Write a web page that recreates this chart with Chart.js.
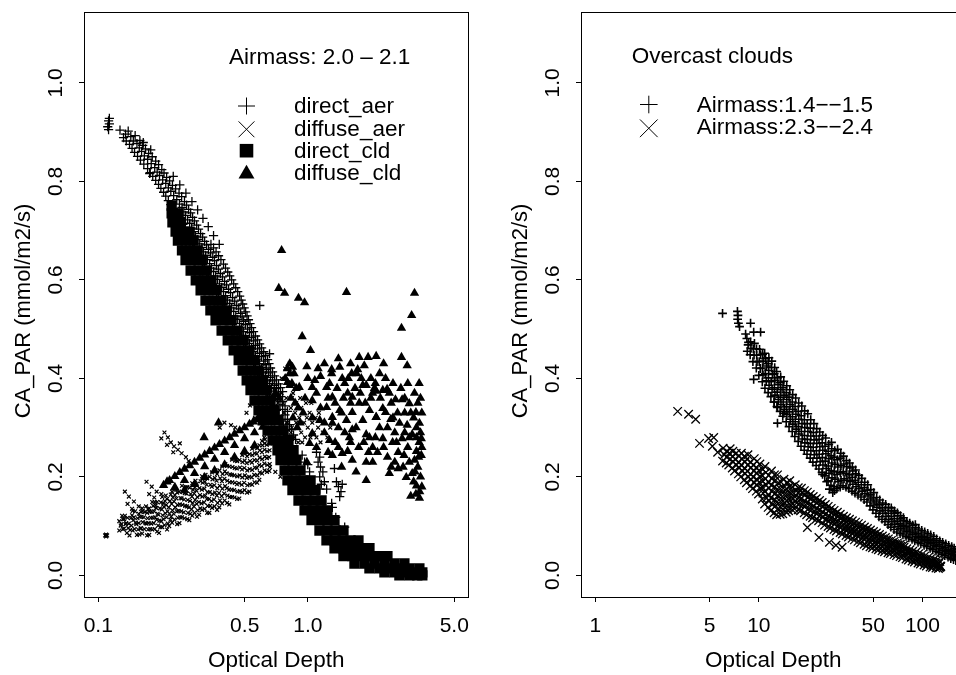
<!DOCTYPE html>
<html lang="en">
<head>
<meta charset="utf-8">
<title>CA_PAR vs Optical Depth</title>
<script src="https://cdn.jsdelivr.net/npm/chart.js@4.4.1/dist/chart.umd.min.js"></script>
<style>
  html, body { margin: 0; padding: 0; background: #fff; }
  body { width: 956px; height: 675px; overflow: hidden; position: relative; }
  canvas { position: absolute; top: 0; }
  #panelAer { left: 0; }
  #panelOvercast { left: 497px; }
</style>
</head>
<body>
<canvas id="panelAer" width="478" height="675"></canvas>
<canvas id="panelOvercast" width="478" height="675"></canvas>
<script>
// ---------- axis ticks ----------
const yTickValues = [0, 0.2, 0.4, 0.6, 0.8, 1.0];
const aerTickValues = [0.1, 0.5, 1, 5];
const aerTickLabels = ['0.1', '0.5', '1.0', '5.0'];
const overcastTickValues = [1, 5, 10, 50, 100];
const overcastTickLabels = ['1', '5', '10', '50', '100'];

// ---------- left panel: airmass 2.0 - 2.1 ----------
// [optical depth, CA_PAR]
const directAer = [
  [0.112,0.905],[0.111,0.911],[0.113,0.917],[0.112,0.923],[0.113,0.928],
  [0.127,0.904],[0.139,0.902],[0.132,0.889],[0.143,0.891],[0.135,0.896],
  [0.141,0.875],[0.153,0.877],[0.163,0.873],[0.149,0.859],[0.161,0.861],[0.174,0.857],
  [0.136,0.882],[0.147,0.882],[0.158,0.883],[0.145,0.867],[0.157,0.868],[0.168,0.866],
  [0.154,0.851],[0.166,0.852],[0.181,0.850],[0.165,0.835],[0.179,0.836],[0.194,0.834],
  [0.159,0.843],[0.172,0.845],[0.188,0.841],[0.172,0.826],[0.186,0.828],[0.201,0.824],
  [0.177,0.818],[0.191,0.819],[0.206,0.817],[0.188,0.802],[0.203,0.803],[0.219,0.801],
  [0.182,0.810],[0.196,0.812],[0.212,0.808],[0.176,0.816],[0.194,0.794],[0.210,0.796],[0.226,0.792],
  [0.228,0.810],[0.245,0.793],[0.262,0.776],[0.280,0.759],[0.298,0.742],[0.316,0.725],
  [0.335,0.708],[0.355,0.690],[0.378,0.672],[0.150,0.893],[0.164,0.879],[0.178,0.864],
  [0.199,0.786],[0.216,0.787],[0.234,0.785],[0.210,0.770],[0.229,0.771],[0.250,0.769],
  [0.205,0.778],[0.222,0.780],[0.243,0.776],[0.216,0.761],[0.237,0.763],[0.258,0.759],
  [0.222,0.753],[0.244,0.754],[0.264,0.752],[0.236,0.737],[0.256,0.738],[0.276,0.736],
  [0.229,0.745],[0.251,0.747],[0.270,0.743],[0.243,0.729],[0.261,0.731],[0.282,0.727],
  [0.248,0.721],[0.267,0.722],[0.288,0.720],[0.258,0.704],[0.279,0.705],[0.301,0.703],
  [0.253,0.713],[0.273,0.715],[0.295,0.711],[0.264,0.696],[0.285,0.698],[0.308,0.694],
  [0.270,0.688],[0.291,0.689],[0.315,0.687],
  [0.276,0.680],[0.298,0.682],[0.322,0.678],
  [0.282,0.672],[0.305,0.673],[0.329,0.671],[0.345,0.672],
  [0.288,0.664],[0.312,0.666],[0.336,0.662],[0.355,0.665],
  [0.294,0.656],[0.318,0.657],[0.344,0.655],[0.365,0.657],
  [0.301,0.648],[0.325,0.650],[0.352,0.646],[0.375,0.649],
  [0.308,0.640],[0.332,0.641],[0.359,0.639],[0.385,0.641],
  [0.315,0.631],[0.340,0.633],[0.367,0.629],[0.396,0.632],
  [0.322,0.623],[0.347,0.624],[0.375,0.622],[0.405,0.624],
  [0.329,0.615],[0.355,0.617],[0.383,0.613],[0.415,0.616],
  [0.336,0.607],[0.363,0.608],[0.392,0.606],[0.424,0.608],
  [0.343,0.599],[0.371,0.601],[0.401,0.597],[0.433,0.600],
  [0.351,0.591],[0.379,0.592],[0.410,0.590],[0.443,0.592],
  [0.359,0.583],[0.388,0.585],[0.419,0.581],[0.453,0.584],
  [0.367,0.575],[0.396,0.576],[0.428,0.574],[0.463,0.576],
  [0.375,0.566],[0.405,0.568],[0.438,0.564],[0.473,0.567],
  [0.383,0.558],[0.414,0.559],[0.448,0.557],[0.481,0.559],
  [0.392,0.550],[0.424,0.552],[0.458,0.548],[0.489,0.551],
  [0.401,0.542],[0.433,0.543],[0.468,0.541],[0.497,0.543],
  [0.410,0.534],[0.443,0.536],[0.478,0.532],[0.505,0.535],
  [0.419,0.526],[0.453,0.527],[0.486,0.525],[0.513,0.527],
  [0.428,0.518],[0.463,0.520],[0.494,0.516],[0.521,0.519],
  [0.437,0.510],[0.473,0.511],[0.505,0.509],[0.530,0.511],
  [0.447,0.502],[0.483,0.504],[0.516,0.500],[0.539,0.503],
  [0.460,0.494],[0.494,0.495],[0.527,0.493],[0.551,0.495],
  [0.473,0.485],[0.505,0.487],[0.539,0.483],[0.563,0.486],
  [0.483,0.477],[0.516,0.478],[0.551,0.476],[0.576,0.478],
  [0.494,0.469],[0.527,0.471],[0.563,0.467],[0.589,0.470],
  [0.505,0.461],[0.539,0.462],[0.576,0.460],[0.602,0.462],
  [0.516,0.453],[0.551,0.455],[0.589,0.451],[0.616,0.454],
  [0.527,0.445],[0.563,0.446],[0.602,0.444],[0.629,0.446],
  [0.539,0.437],[0.576,0.439],[0.616,0.435],[0.643,0.438],
  [0.551,0.429],[0.589,0.430],[0.626,0.428],[0.653,0.430],
  [0.563,0.420],[0.602,0.422],[0.636,0.418],[0.664,0.421],
  [0.576,0.412],[0.615,0.413],[0.650,0.411],[0.679,0.413],
  [0.589,0.404],[0.629,0.406],[0.664,0.402],[0.694,0.405],
  [0.602,0.396],[0.643,0.397],[0.679,0.395],[0.709,0.397],
  [0.616,0.388],[0.657,0.390],[0.694,0.386],[0.725,0.389],
  [0.629,0.380],[0.672,0.381],[0.709,0.379],[0.741,0.381],
  [0.643,0.372],[0.687,0.374],[0.725,0.370],[0.758,0.373],
  [0.657,0.364],[0.702,0.365],[0.741,0.363],
  [0.672,0.355],[0.717,0.357],[0.758,0.353],
  [0.690,0.345],[0.737,0.346],[0.779,0.344],
  [0.709,0.335],[0.758,0.337],[0.800,0.333],
  [0.729,0.325],[0.779,0.326],[0.750,0.315],[0.800,0.317],
  [0.766,0.305],[0.818,0.306],[0.783,0.294],[0.836,0.296],
  [0.800,0.284],[0.855,0.285],[0.818,0.274],[0.874,0.276],
  [0.590,0.548],[0.657,0.450],
  [0.940,0.244],[0.965,0.230],[1.000,0.225],[1.020,0.210],[1.100,0.250],[1.140,0.240],
  [1.150,0.220],[1.140,0.200],[1.160,0.185],[1.140,0.175],[1.200,0.190],[1.230,0.175],
  [1.120,0.230],[1.180,0.210],[1.340,0.217],[1.370,0.190],[1.400,0.180],[1.440,0.170],
  [1.460,0.185],[1.420,0.160],[1.300,0.146],[1.310,0.138],[1.360,0.118],[1.500,0.098]
];

const diffuseAer = [
  [0.126,0.091],[0.128,0.101],[0.126,0.110],
  [0.133,0.095],[0.135,0.104],[0.133,0.114],[0.134,0.121],
  [0.141,0.081],[0.142,0.092],[0.140,0.105],[0.143,0.116],
  [0.149,0.094],[0.151,0.107],[0.148,0.118],[0.150,0.130],
  [0.157,0.083],[0.159,0.095],[0.156,0.106],[0.158,0.119],[0.160,0.129],
  [0.166,0.094],[0.168,0.106],[0.165,0.118],[0.167,0.129],[0.169,0.140],
  [0.175,0.082],[0.177,0.094],[0.174,0.106],[0.178,0.117],[0.176,0.129],[0.175,0.136],
  [0.186,0.094],[0.184,0.106],[0.187,0.118],[0.185,0.130],[0.188,0.142],[0.186,0.149],
  [0.195,0.086],[0.198,0.098],[0.196,0.111],[0.194,0.123],[0.197,0.136],[0.199,0.148],
  [0.207,0.102],[0.205,0.114],[0.209,0.126],[0.206,0.139],[0.208,0.151],[0.210,0.162],
  [0.218,0.100],[0.221,0.113],[0.219,0.125],[0.217,0.138],[0.220,0.151],[0.222,0.164],
  [0.231,0.113],[0.229,0.125],[0.233,0.138],[0.230,0.150],[0.232,0.163],[0.234,0.174],
  [0.244,0.106],[0.246,0.118],[0.242,0.131],[0.245,0.144],[0.247,0.157],[0.243,0.170],
  [0.258,0.116],[0.256,0.128],[0.260,0.141],[0.257,0.154],[0.259,0.167],[0.261,0.179],
  [0.272,0.112],[0.275,0.125],[0.271,0.138],[0.274,0.151],[0.276,0.165],[0.273,0.178],
  [0.288,0.127],[0.286,0.140],[0.290,0.153],[0.287,0.166],[0.289,0.179],[0.291,0.192],
  [0.303,0.123],[0.307,0.136],[0.302,0.149],[0.306,0.163],[0.304,0.177],[0.308,0.191],
  [0.322,0.135],[0.320,0.148],[0.324,0.162],[0.321,0.176],[0.323,0.190],[0.325,0.204],
  [0.339,0.127],[0.342,0.141],[0.338,0.155],[0.341,0.169],[0.343,0.184],[0.340,0.200],
  [0.359,0.140],[0.357,0.154],[0.361,0.168],[0.358,0.183],[0.360,0.198],[0.362,0.213],
  [0.378,0.138],[0.381,0.152],[0.377,0.167],[0.380,0.182],[0.382,0.197],[0.379,0.213],
  [0.401,0.152],[0.399,0.166],[0.403,0.181],[0.400,0.196],[0.402,0.211],[0.404,0.226],
  [0.422,0.144],[0.425,0.159],[0.421,0.174],[0.424,0.189],[0.426,0.205],[0.423,0.221],
  [0.447,0.158],[0.445,0.173],[0.449,0.188],[0.446,0.203],[0.448,0.218],[0.450,0.233],
  [0.471,0.156],[0.474,0.171],[0.470,0.187],[0.473,0.203],[0.475,0.219],[0.472,0.234],
  [0.499,0.173],[0.497,0.188],[0.501,0.203],[0.498,0.218],[0.500,0.233],[0.502,0.247],
  [0.526,0.170],[0.529,0.185],[0.525,0.200],[0.528,0.216],[0.530,0.232],[0.527,0.246],
  [0.557,0.189],[0.555,0.204],[0.559,0.219],[0.556,0.234],[0.558,0.248],[0.560,0.260],
  [0.587,0.194],[0.590,0.209],[0.586,0.224],[0.589,0.239],[0.591,0.254],[0.588,0.264],
  [0.622,0.213],[0.620,0.227],[0.624,0.241],[0.621,0.255],[0.623,0.268],[0.625,0.276],
  [0.655,0.212],[0.658,0.226],[0.654,0.240],[0.657,0.254],[0.659,0.268],
  [0.131,0.094],[0.129,0.104],[0.131,0.114],[0.130,0.121],
  [0.137,0.086],[0.139,0.096],[0.136,0.106],[0.138,0.117],
  [0.146,0.091],[0.144,0.101],[0.147,0.112],[0.145,0.122],[0.146,0.131],
  [0.153,0.082],[0.155,0.093],[0.152,0.104],[0.154,0.116],[0.156,0.125],
  [0.162,0.085],[0.160,0.096],[0.163,0.108],[0.161,0.119],[0.163,0.130],[0.162,0.136],
  [0.171,0.081],[0.173,0.093],[0.170,0.105],[0.172,0.116],[0.171,0.127],[0.173,0.134],
  [0.181,0.093],[0.179,0.105],[0.182,0.117],[0.180,0.129],[0.183,0.141],[0.181,0.149],
  [0.191,0.089],[0.193,0.101],[0.190,0.113],[0.192,0.125],[0.189,0.137],[0.191,0.149],
  [0.202,0.098],[0.200,0.110],[0.203,0.122],[0.201,0.134],[0.204,0.146],[0.202,0.159],
  [0.213,0.093],[0.215,0.105],[0.212,0.118],[0.214,0.130],[0.211,0.143],[0.213,0.155],
  [0.225,0.107],[0.223,0.119],[0.226,0.132],[0.224,0.145],[0.227,0.158],[0.225,0.170],
  [0.238,0.104],[0.240,0.117],[0.237,0.130],[0.239,0.143],[0.236,0.156],[0.238,0.168],
  [0.251,0.118],[0.249,0.130],[0.252,0.143],[0.250,0.156],[0.253,0.169],[0.251,0.182],
  [0.266,0.114],[0.268,0.127],[0.265,0.140],[0.267,0.153],[0.264,0.166],[0.266,0.179],
  [0.281,0.121],[0.279,0.134],[0.282,0.147],[0.280,0.160],[0.283,0.174],[0.281,0.187],
  [0.296,0.119],[0.298,0.132],[0.295,0.145],[0.297,0.159],[0.294,0.172],[0.296,0.186],
  [0.313,0.133],[0.311,0.146],[0.314,0.160],[0.312,0.174],[0.315,0.188],[0.313,0.201],
  [0.331,0.127],[0.333,0.141],[0.330,0.155],[0.332,0.169],[0.329,0.184],[0.331,0.197],
  [0.349,0.137],[0.347,0.151],[0.350,0.165],[0.348,0.180],[0.351,0.195],[0.349,0.209],
  [0.369,0.133],[0.371,0.147],[0.368,0.162],[0.370,0.177],[0.367,0.192],[0.369,0.206],
  [0.390,0.146],[0.388,0.161],[0.391,0.176],[0.389,0.191],[0.392,0.206],[0.390,0.221],
  [0.412,0.147],[0.414,0.162],[0.411,0.177],[0.413,0.192],[0.410,0.207],[0.412,0.222],
  [0.435,0.159],[0.433,0.174],[0.436,0.189],[0.434,0.204],[0.437,0.220],[0.435,0.235],
  [0.460,0.155],[0.462,0.170],[0.459,0.185],[0.461,0.201],[0.458,0.217],[0.460,0.232],
  [0.486,0.169],[0.484,0.184],[0.487,0.199],[0.485,0.215],[0.488,0.230],[0.486,0.244],
  [0.513,0.168],[0.515,0.183],[0.512,0.198],[0.514,0.213],[0.511,0.228],[0.513,0.242],
  [0.542,0.184],[0.540,0.199],[0.543,0.214],[0.541,0.229],[0.544,0.244],[0.542,0.257],
  [0.573,0.188],[0.575,0.203],[0.572,0.218],[0.574,0.233],[0.571,0.247],[0.573,0.258],
  [0.605,0.207],[0.603,0.222],[0.606,0.236],[0.604,0.250],[0.607,0.264],[0.605,0.273],
  [0.639,0.210],[0.641,0.224],[0.638,0.238],[0.640,0.252],[0.637,0.265],
  [0.207,0.290],[0.215,0.280],[0.222,0.270],[0.230,0.262],[0.240,0.255],[0.250,0.248],
  [0.262,0.240],[0.270,0.232],[0.213,0.265],[0.228,0.250],[0.200,0.278],[0.245,0.268],
  [0.170,0.190],[0.180,0.180],[0.190,0.170],[0.175,0.165],[0.185,0.158],[0.200,0.165],
  [0.134,0.170],[0.140,0.160],[0.148,0.150],[0.156,0.140],[0.145,0.135],[0.138,0.145],
  [0.380,0.300],[0.400,0.310],[0.430,0.305],[0.450,0.300],
  [0.510,0.330],[0.530,0.345],[0.550,0.360],[0.570,0.340],[0.590,0.330],[0.560,0.320],[0.540,0.310],
  [0.1078,0.081],[0.1102,0.081],[0.109,0.079],[0.109,0.083],[0.109,0.081],
  [0.68,0.30],[0.70,0.32],[0.72,0.28],[0.72,0.35],[0.74,0.30],[0.75,0.37],[0.76,0.27],[0.77,0.33],
  [0.78,0.29],[0.79,0.36],[0.80,0.31],[0.81,0.39],[0.82,0.27],[0.83,0.34],[0.84,0.30],[0.85,0.37],
  [0.86,0.28],[0.87,0.33],[0.88,0.35],[0.89,0.30],[0.90,0.27],[0.91,0.32],[0.92,0.36],[0.93,0.29],
  [0.95,0.33],[0.96,0.31],[0.97,0.28],[0.98,0.35],[1.00,0.30],[1.02,0.33],[1.03,0.28],[1.05,0.31],
  [1.07,0.29],[1.09,0.32],[1.10,0.28],[1.12,0.30],[1.15,0.27],[1.18,0.29],[1.20,0.31],[1.24,0.28],
  [1.28,0.30],[0.74,0.26],[0.80,0.25],[0.86,0.25],[0.66,0.27],[0.64,0.30],[0.62,0.28],[0.75,0.40],
  [0.78,0.42],[0.82,0.43],[0.66,0.22],[0.70,0.21],[0.74,0.20],
  [0.69,0.34],[0.73,0.32],[0.76,0.35],[0.79,0.31],[0.83,0.29],[0.88,0.31],[0.94,0.27],[0.99,0.32],
  [1.04,0.35],[1.13,0.33],[0.71,0.26],[0.77,0.24],[0.84,0.36],[0.93,0.34]
];

const directCld = [
  [0.224,0.751],
  [0.224,0.735],[0.240,0.735],
  [0.226,0.717],[0.248,0.717],
  [0.234,0.698],[0.256,0.698],[0.273,0.698],
  [0.240,0.680],[0.261,0.680],[0.285,0.680],
  [0.251,0.660],[0.273,0.660],[0.298,0.660],
  [0.261,0.640],[0.285,0.640],[0.312,0.640],
  [0.276,0.619],[0.301,0.619],[0.329,0.619],
  [0.292,0.599],[0.319,0.599],[0.347,0.599],
  [0.308,0.579],[0.336,0.579],[0.367,0.579],
  [0.325,0.558],[0.355,0.558],[0.388,0.558],
  [0.343,0.538],[0.375,0.538],[0.410,0.538],
  [0.363,0.518],[0.396,0.518],[0.433,0.518],
  [0.388,0.497],[0.424,0.497],[0.463,0.497],
  [0.415,0.477],[0.453,0.477],[0.494,0.477],
  [0.443,0.457],[0.483,0.457],[0.527,0.457],
  [0.468,0.437],[0.511,0.437],[0.557,0.437],
  [0.489,0.416],[0.533,0.416],[0.582,0.416],
  [0.511,0.396],[0.557,0.396],[0.609,0.396],
  [0.533,0.376],[0.582,0.376],[0.636,0.376],
  [0.557,0.355],[0.609,0.355],[0.664,0.355],
  [0.582,0.335],[0.636,0.335],[0.694,0.335],
  [0.609,0.315],[0.664,0.315],[0.725,0.315],
  [0.643,0.294],[0.702,0.294],[0.766,0.294],
  [0.679,0.274],[0.741,0.274],[0.809,0.274],
  [0.717,0.254],[0.783,0.254],[0.855,0.254],
  [0.741,0.234],[0.809,0.234],[0.884,0.234],
  [0.775,0.213],[0.845,0.213],[0.923,0.213],
  [0.800,0.193],[0.874,0.193],[0.954,0.193],[1.031,0.193],
  [0.845,0.173],[0.923,0.173],[1.008,0.173],[1.088,0.173],
  [0.903,0.152],[0.986,0.152],[1.076,0.152],[1.163,0.152],
  [0.965,0.132],[1.054,0.132],[1.150,0.132],[1.241,0.132],
  [1.042,0.112],[1.137,0.112],[1.241,0.112],[1.341,0.112],
  [1.137,0.091],[1.241,0.091],[1.356,0.091],[1.480,0.091],
  [1.228,0.071],[1.341,0.071],[1.464,0.071],[1.599,0.071],[1.745,0.071],
  [1.341,0.055],[1.480,0.055],[1.634,0.055],[1.803,0.055],[1.969,0.055],
  [1.480,0.039],[1.634,0.039],[1.803,0.039],[1.991,0.039],[2.197,0.039],[2.399,0.039],
  [1.670,0.024],[1.864,0.024],[2.080,0.024],[2.321,0.024],[2.590,0.024],[2.891,0.024],
  [1.969,0.014],[2.197,0.014],[2.452,0.014],[2.736,0.014],[3.054,0.014],[3.408,0.014],
  [2.321,0.006],[2.590,0.006],[2.891,0.006],[3.226,0.006],[3.520,0.006],
  [2.736,0.000],[3.054,0.000],[3.330,0.000],[3.520,0.000]
];

const diffuseCld = [
  [0.205,0.183],[0.213,0.190],
  [0.219,0.193],[0.245,0.209],[0.273,0.223],[0.305,0.238],[0.340,0.252],[0.379,0.266],
  [0.424,0.280],[0.473,0.294],[0.527,0.307],[0.576,0.317],
  [0.232,0.201],[0.258,0.216],[0.288,0.230],[0.322,0.245],[0.359,0.259],[0.401,0.273],
  [0.447,0.287],[0.499,0.300],[0.550,0.312],
  [0.232,0.179],[0.258,0.193],[0.288,0.207],[0.322,0.221],[0.359,0.236],[0.401,0.250],
  [0.447,0.264],[0.499,0.278],[0.557,0.290],[0.609,0.301],
  [0.258,0.173],[0.288,0.185],[0.322,0.199],[0.359,0.213],[0.401,0.225],[0.447,0.240],
  [0.499,0.252],[0.557,0.264],
  [0.320,0.280],[0.375,0.310],[0.700,0.370],[0.730,0.360],
  [0.750,0.660],[0.727,0.583],[0.775,0.573],[0.903,0.563],[0.965,0.554],[1.530,0.575],
  [3.230,0.573],[3.130,0.528],[2.800,0.502],[0.940,0.485],[1.030,0.457],[2.800,0.443],
  [2.980,0.426],[1.400,0.440],[1.760,0.443],[1.940,0.443],[1.860,0.426],[1.420,0.423],
  [0.820,0.430],[0.845,0.423],[0.990,0.424],[1.620,0.410],[1.710,0.410],[1.300,0.410],
  [3.230,0.370],[2.280,0.376],[2.080,0.380],[1.500,0.390],[1.270,0.390],[1.080,0.396],
  [1.050,0.382],[0.820,0.410],[0.800,0.392],[0.820,0.386],[0.910,0.382],[1.050,0.355],
  [1.230,0.382],[1.550,0.370],[1.830,0.386],[2.040,0.370],[1.310,0.362],[1.630,0.362],
  [1.230,0.341],[1.420,0.335],[1.760,0.350],[1.970,0.335],[1.140,0.315],[1.310,0.309],
  [1.530,0.315],[1.830,0.315],[2.120,0.321],[1.050,0.288],[1.270,0.274],[1.580,0.280],
  [1.970,0.280],[1.020,0.268],[1.460,0.248],[1.900,0.230],[2.040,0.230],[1.900,0.193],
  [1.630,0.234],[0.990,0.230],
  [2.120,0.445],[1.730,0.418],[2.390,0.378],[2.620,0.357],[2.820,0.357],[3.050,0.349],
  [2.280,0.339],[2.490,0.317],[2.740,0.309],[2.980,0.305],[3.410,0.309],[3.480,0.278],
  [3.300,0.252],[3.150,0.286],[2.820,0.278],[2.540,0.270],[2.280,0.278],[2.040,0.260],
  [1.900,0.286],[1.630,0.296],[1.550,0.252],[2.450,0.207],[2.700,0.217],[2.950,0.199],
  [3.150,0.207],[3.300,0.182],[3.280,0.165],[3.100,0.161],[3.410,0.157],[2.880,0.244],
  [3.230,0.234],[3.480,0.244],[3.280,0.331],[1.460,0.400],[1.300,0.418],[1.150,0.404],
  [1.310,0.321],[1.630,0.331],[1.900,0.386],[2.120,0.374],[2.350,0.331],[2.120,0.321],
  [1.310,0.244],
  [0.780,0.400],[0.800,0.420],[0.840,0.390],[0.860,0.410],[0.880,0.380],[0.830,0.360],
  [0.870,0.350],[0.900,0.340],[0.850,0.320],[0.920,0.310],[0.890,0.300],[0.950,0.330],
  [0.970,0.360],
  [2.600,0.290],[2.900,0.330],[3.200,0.320],[3.350,0.350],[2.500,0.350],[2.700,0.250],
  [3.000,0.260],[3.400,0.270],[2.200,0.300],[2.400,0.240],[3.350,0.220],[3.450,0.200],
  [3.200,0.190],[2.600,0.230],[3.050,0.230],[3.500,0.330],[3.450,0.360],
  [1.200,0.430],[1.100,0.370],[1.350,0.350],[1.600,0.350],[1.700,0.300],[1.400,0.300],
  [1.200,0.290],[1.100,0.260],[1.350,0.270],[1.750,0.260],[2.200,0.410],[2.000,0.400],
  [2.300,0.430],[1.250,0.250],[1.450,0.220],[1.700,0.210],[1.950,0.250],[2.150,0.250],
  [1.600,0.430],[1.800,0.400],
  [1.000,0.400],[1.120,0.420],[1.250,0.360],[1.380,0.380],[1.480,0.360],[1.560,0.400],
  [1.680,0.380],[1.780,0.370],[1.880,0.350],[2.000,0.360],[2.100,0.390],[2.220,0.360],
  [2.350,0.400],[2.450,0.370],[2.550,0.390],[2.680,0.330],[2.780,0.380],[2.900,0.360],
  [3.000,0.390],[3.100,0.330],[3.300,0.300],[3.400,0.390],[2.400,0.300],[2.550,0.320],
  [2.650,0.270],[2.900,0.290],[3.050,0.280],[2.300,0.260],[2.100,0.280],[1.850,0.270],
  [1.500,0.290],[1.450,0.330],[1.150,0.340],[1.050,0.320],[1.400,0.260],[1.600,0.270],
  [1.200,0.310],[3.300,0.280],[3.450,0.290],[3.500,0.260],[3.380,0.240],[3.250,0.210],
  [3.500,0.180],[3.420,0.170],[2.850,0.220],[2.500,0.220]
];

// ---------- right panel: overcast clouds ----------
const airmassLow = [
  [6.0,0.532],[7.40,0.536],[7.45,0.528],[7.42,0.520],[7.50,0.512],[7.62,0.505],
  [8.9,0.512],[10.25,0.494],[9.3,0.494],[8.3,0.490],[8.65,0.473],[9.3,0.398],
  [13.0,0.341],[13.0,0.309],[14.2,0.329],[12.4,0.352],
  [8.50,0.455],[8.60,0.468],[8.45,0.481],
  [8.85,0.448],[8.95,0.461],[8.9,0.474],
  [9.20,0.434],[9.35,0.447],[9.25,0.460],[9.40,0.471],
  [9.65,0.421],[9.75,0.434],[9.7,0.447],[9.68,0.460],
  [10.0,0.406],[10.2,0.420],[10.05,0.434],[10.25,0.448],[10.1,0.459],
  [10.5,0.393],[10.6,0.407],[10.52,0.421],[10.62,0.435],[10.55,0.449],
  [10.9,0.380],[11.1,0.395],[10.95,0.410],[11.15,0.425],[11.0,0.440],[10.85,0.451],
  [11.4,0.371],[11.55,0.386],[11.45,0.401],[11.5,0.416],[11.42,0.430],[11.52,0.442],
  [11.85,0.363],[12.05,0.378],[11.9,0.393],[12.1,0.408],[11.95,0.422],[12.0,0.435],
  [12.4,0.352],[12.55,0.366],[12.45,0.381],[12.52,0.396],[12.42,0.410],[12.5,0.422],
  [12.9,0.343],[13.15,0.357],[12.95,0.372],[13.1,0.387],[13.0,0.401],[12.85,0.414],
  [13.5,0.333],[13.65,0.347],[13.55,0.362],[13.62,0.377],[13.52,0.391],[13.6,0.403],
  [14.0,0.323],[14.3,0.337],[14.1,0.352],[14.25,0.366],[14.05,0.381],[14.2,0.394],
  [14.7,0.312],[14.85,0.327],[14.75,0.342],[14.82,0.357],[14.72,0.371],[14.8,0.385],
  [15.3,0.302],[15.55,0.317],[15.35,0.332],[15.5,0.347],[15.3,0.362],[15.45,0.377],
  [16.0,0.292],[16.15,0.307],[16.05,0.322],[16.12,0.337],[16.02,0.352],[16.1,0.367],
  [16.6,0.282],[16.9,0.297],[16.7,0.312],[16.85,0.327],[16.65,0.343],[16.8,0.360],
  [17.4,0.272],[17.58,0.287],[17.45,0.302],[17.55,0.317],[17.42,0.333],[17.52,0.350],
  [18.1,0.262],[18.4,0.277],[18.2,0.292],[18.35,0.308],[18.15,0.324],[18.3,0.344],
  [18.95,0.254],[19.12,0.269],[19.0,0.284],[19.1,0.300],[18.98,0.316],[19.05,0.334],
  [19.7,0.246],[20.0,0.261],[19.8,0.276],[19.95,0.292],[19.75,0.308],[19.9,0.328],
  [20.6,0.238],[20.8,0.253],[20.65,0.268],[20.78,0.283],[20.62,0.299],[20.75,0.316],
  [21.4,0.230],[21.8,0.245],[21.5,0.260],[21.75,0.275],[21.55,0.290],[21.7,0.308],
  [22.4,0.223],[22.65,0.238],[22.48,0.253],[22.6,0.268],[22.45,0.283],[22.58,0.298],
  [23.3,0.216],[23.7,0.231],[23.4,0.246],[23.6,0.261],[23.35,0.276],[23.55,0.291],
  [24.35,0.209],[24.65,0.224],[24.45,0.239],[24.6,0.254],[24.4,0.269],[24.55,0.284],
  [25.3,0.202],[25.8,0.217],[25.5,0.232],[25.7,0.247],[25.4,0.262],[25.6,0.279],
  [26.5,0.192],[26.85,0.207],[26.6,0.222],[26.8,0.237],[26.55,0.252],[26.75,0.266],
  [27.6,0.183],[28.0,0.198],[27.7,0.213],[27.95,0.228],[27.65,0.243],[27.9,0.257],[27.8,0.270],
  [28.8,0.180],[29.2,0.195],[28.9,0.210],[29.15,0.225],[28.85,0.240],[29.1,0.253],
  [30.0,0.176],[30.5,0.190],[30.1,0.205],[30.4,0.220],[30.2,0.235],[30.3,0.256],
  [28.3,0.168],[27.0,0.175],[26.0,0.190],[24.5,0.205],[29.0,0.172],
  [31.4,0.179],[31.8,0.193],[31.5,0.208],[31.75,0.223],[31.45,0.238],[31.7,0.248],
  [32.7,0.182],[33.2,0.196],[32.8,0.211],[33.1,0.226],[32.9,0.242],
  [34.1,0.179],[34.6,0.193],[34.2,0.207],[34.5,0.221],[34.3,0.233],
  [35.5,0.176],[36.1,0.190],[35.7,0.204],[36.0,0.218],[35.8,0.228],
  [37.1,0.171],[37.6,0.185],[37.2,0.199],[37.5,0.212],[37.3,0.220],
  [38.7,0.167],[39.3,0.180],[38.8,0.193],[39.2,0.206],[39.0,0.214],
  [40.4,0.163],[40.9,0.176],[40.5,0.189],[40.8,0.203],
  [42.1,0.159],[42.8,0.171],[42.3,0.184],[42.6,0.197],
  [44.0,0.154],[44.5,0.166],[44.1,0.178],[44.4,0.189],
  [45.8,0.149],[46.5,0.161],[46.0,0.173],[46.3,0.184],
  [47.8,0.141],[48.4,0.153],[48.0,0.164],[48.3,0.174],
  [49.8,0.133],[50.6,0.145],[50.0,0.157],[50.4,0.168],
  [52.0,0.126],[52.7,0.138],[52.2,0.149],[52.5,0.158],
  [54.2,0.119],[55.0,0.131],[54.4,0.143],[54.8,0.153],
  [56.6,0.114],[57.3,0.126],[56.8,0.137],[57.1,0.147],
  [59.0,0.109],[59.9,0.120],[59.2,0.132],[59.6,0.144],
  [61.6,0.103],[62.3,0.114],[61.8,0.126],[62.1,0.138],
  [64.1,0.098],[65.1,0.109],[64.4,0.120],[64.9,0.131],[64.5,0.137],
  [67.0,0.093],[67.8,0.104],[67.2,0.115],[67.6,0.126],[67.3,0.131],
  [69.8,0.088],[71.0,0.099],[70.1,0.110],[70.7,0.121],[70.3,0.127],
  [73.0,0.085],[73.8,0.095],[73.2,0.105],[73.6,0.115],[73.3,0.121],
  [76.0,0.082],[77.2,0.092],[76.3,0.102],[76.9,0.112],[76.5,0.117],
  [79.4,0.079],[80.4,0.089],[79.7,0.099],[80.2,0.109],
  [82.6,0.076],[84.0,0.086],[83.0,0.096],[83.6,0.106],
  [86.4,0.073],[87.4,0.083],[86.7,0.092],[87.2,0.102],
  [89.8,0.070],[91.4,0.079],[90.2,0.088],[91.0,0.097],[90.5,0.103],
  [94.0,0.067],[95.0,0.076],[94.3,0.085],[94.8,0.094],
  [97.8,0.064],[99.4,0.073],[98.2,0.082],[99.0,0.091],
  [102.3,0.061],[103.5,0.070],[102.6,0.079],[103.2,0.088],
  [106.4,0.058],[108.2,0.067],[106.9,0.076],[107.7,0.085],
  [111.4,0.055],[112.6,0.064],[111.7,0.073],[112.3,0.082],
  [115.7,0.052],[117.7,0.061],[116.2,0.070],[117.2,0.079],
  [121.0,0.049],[122.4,0.058],[121.4,0.066],[122.0,0.074],
  [125.8,0.046],[128.0,0.054],[126.4,0.062],[127.5,0.070],
  [131.6,0.043],[133.2,0.051],[132.0,0.059],[132.8,0.067],
  [137.0,0.040],[139.4,0.048],[137.6,0.056],[138.8,0.064],
  [143.4,0.037],[145.0,0.045],[143.8,0.053],[144.6,0.061],
  [149.0,0.034],[151.6,0.042],[149.7,0.050],[151.0,0.058],
  [154.8,0.032],[156.6,0.040],[155.2,0.048],[156.2,0.055],
  [160.0,0.030],[162.6,0.038],[160.7,0.046],[162.0,0.052]
];

const airmassHigh = [
  [3.19,0.333],[3.72,0.327],[4.11,0.317],[4.34,0.268],[4.93,0.278],[5.3,0.280],[5.6,0.250],[5.2,0.262],
  [6.0,0.232],[6.15,0.245],[6.05,0.258],
  [6.32,0.228],[6.4,0.240],[6.35,0.252],
  [6.55,0.224],[6.7,0.236],[6.6,0.248],[6.68,0.257],
  [6.88,0.218],[6.96,0.230],[6.9,0.242],[6.94,0.252],
  [7.1,0.212],[7.3,0.224],[7.15,0.236],[7.28,0.248],
  [7.5,0.206],[7.58,0.218],[7.52,0.230],[7.56,0.242],
  [7.75,0.200],[7.95,0.212],[7.8,0.224],[7.9,0.236],[7.82,0.248],
  [8.15,0.194],[8.24,0.206],[8.18,0.218],[8.22,0.230],[8.16,0.242],
  [8.4,0.188],[8.65,0.200],[8.5,0.212],[8.6,0.224],[8.45,0.236],[8.58,0.245],
  [8.87,0.182],[8.96,0.194],[8.9,0.206],[8.94,0.218],[8.88,0.230],
  [9.15,0.176],[9.4,0.188],[9.2,0.200],[9.35,0.212],[9.25,0.224],[9.38,0.237],
  [9.65,0.171],[9.75,0.183],[9.68,0.195],[9.73,0.207],[9.66,0.219],[9.72,0.231],
  [9.95,0.165],[10.25,0.177],[10.05,0.189],[10.2,0.201],[10.0,0.213],[10.15,0.226],
  [10.5,0.155],[10.6,0.167],[10.52,0.179],[10.58,0.191],[10.5,0.203],[10.57,0.215],
  [10.85,0.145],[11.15,0.157],[10.9,0.170],[11.1,0.183],[10.95,0.196],[11.05,0.209],[10.9,0.221],
  [11.4,0.138],[11.55,0.151],[11.45,0.164],[11.52,0.177],[11.42,0.190],[11.5,0.203],
  [11.8,0.131],[12.1,0.144],[11.85,0.157],[12.05,0.170],[11.9,0.183],[12.0,0.196],[11.95,0.212],
  [12.4,0.127],[12.55,0.140],[12.45,0.153],[12.52,0.166],[12.42,0.179],[12.5,0.192],[12.46,0.204],
  [12.85,0.123],[13.2,0.136],[12.9,0.149],[13.1,0.162],[12.95,0.175],[13.15,0.188],[13.0,0.204],
  [13.5,0.124],[13.65,0.137],[13.55,0.150],[13.62,0.163],[13.52,0.176],[13.6,0.190],
  [14.0,0.125],[14.35,0.138],[14.05,0.151],[14.3,0.164],[14.1,0.177],[14.25,0.195],
  [14.7,0.128],[14.85,0.140],[14.75,0.152],[14.82,0.164],[14.72,0.176],[14.8,0.188],
  [15.2,0.131],[15.6,0.143],[15.3,0.155],[15.5,0.167],[15.35,0.180],[15.45,0.192],
  [16.0,0.133],[16.15,0.145],[16.05,0.157],[16.12,0.169],[16.02,0.180],
  [16.55,0.135],[17.0,0.147],[16.65,0.159],[16.9,0.171],[16.7,0.184],
  [17.4,0.133],[17.58,0.145],[17.45,0.157],[17.55,0.169],[17.42,0.178],
  [18.0,0.131],[18.5,0.143],[18.1,0.155],[18.4,0.167],[18.2,0.177],
  [18.95,0.127],[19.12,0.139],[19.0,0.151],[19.1,0.163],[18.98,0.172],
  [19.6,0.123],[20.1,0.135],[19.7,0.147],[20.0,0.159],[19.8,0.169],
  [20.6,0.120],[20.8,0.132],[20.65,0.144],[20.78,0.156],[20.62,0.164],
  [21.3,0.117],[21.9,0.129],[21.45,0.141],[21.8,0.152],[21.5,0.160],
  [22.4,0.114],[22.65,0.125],[22.48,0.136],[22.6,0.147],[22.45,0.156],
  [23.2,0.111],[23.8,0.122],[23.35,0.133],[23.7,0.144],[23.5,0.152],
  [24.35,0.107],[24.65,0.118],[24.45,0.129],[24.6,0.140],[24.4,0.148],
  [25.2,0.102],[25.9,0.113],[25.4,0.124],[25.8,0.135],[25.5,0.144],
  [26.5,0.099],[26.85,0.110],[26.6,0.121],[26.8,0.131],[26.55,0.140],
  [27.4,0.096],[28.2,0.107],[27.6,0.117],[28.0,0.127],[27.7,0.136],
  [28.8,0.093],[29.2,0.104],[28.9,0.114],[29.15,0.124],[28.85,0.132],
  [29.8,0.090],[30.7,0.100],[30.0,0.110],[30.5,0.120],[30.2,0.128],
  [31.4,0.087],[31.8,0.097],[31.5,0.107],[31.75,0.116],[31.45,0.124],
  [32.4,0.084],[33.4,0.094],[32.7,0.103],[33.2,0.112],[32.9,0.120],
  [34.1,0.081],[34.6,0.091],[34.2,0.100],[34.5,0.109],[34.3,0.117],
  [35.3,0.078],[36.3,0.088],[35.6,0.097],[36.1,0.106],[35.8,0.114],
  [37.1,0.075],[37.6,0.085],[37.2,0.094],[37.5,0.103],[37.3,0.111],
  [38.4,0.072],[39.5,0.082],[38.7,0.091],[39.3,0.100],[39.0,0.108],
  [40.4,0.069],[40.9,0.079],[40.5,0.088],[40.8,0.097],[40.6,0.105],
  [41.8,0.066],[43.0,0.076],[42.1,0.085],[42.8,0.094],[42.4,0.102],
  [44.0,0.063],[44.5,0.073],[44.1,0.082],[44.4,0.091],[44.2,0.098],
  [45.5,0.060],[46.8,0.070],[45.8,0.079],[46.5,0.088],[46.1,0.095],
  [47.8,0.058],[48.4,0.067],[48.0,0.076],[48.3,0.085],[48.1,0.092],
  [49.5,0.056],[50.9,0.065],[49.8,0.074],[50.6,0.083],[50.2,0.089],
  [52.0,0.054],[52.7,0.063],[52.2,0.071],[52.5,0.079],[52.3,0.086],
  [53.8,0.052],[55.4,0.061],[54.2,0.069],[55.0,0.077],[54.6,0.083],
  [56.6,0.050],[57.3,0.058],[56.8,0.066],[57.1,0.074],[56.9,0.080],
  [58.6,0.048],[60.2,0.056],[59.0,0.064],[59.8,0.072],[59.4,0.077],
  [61.6,0.046],[62.3,0.054],[61.8,0.061],[62.1,0.069],[61.9,0.074],
  [63.7,0.044],[65.5,0.052],[64.1,0.059],[65.1,0.066],[64.6,0.071],
  [67.0,0.042],[67.8,0.050],[67.2,0.057],[67.6,0.064],[67.3,0.069],
  [69.4,0.040],[71.4,0.048],[69.9,0.055],[70.9,0.062],[70.4,0.066],
  [73.0,0.038],[73.8,0.045],[73.2,0.052],[73.6,0.059],[73.3,0.063],
  [75.5,0.036],[77.7,0.043],[76.0,0.050],[77.2,0.057],[76.6,0.061],
  [79.4,0.033],[80.4,0.041],[79.7,0.048],[80.2,0.054],
  [82.1,0.031],[84.5,0.039],[82.7,0.046],[83.9,0.052],
  [86.4,0.029],[87.4,0.036],[86.7,0.043],[87.2,0.049],
  [89.3,0.027],[91.9,0.034],[90.0,0.041],[91.2,0.047],
  [94.0,0.025],[95.0,0.032],[94.3,0.038],[94.8,0.044],
  [97.2,0.023],[100.0,0.030],[97.9,0.036],[99.3,0.042],
  [102.3,0.021],[103.5,0.027],[102.6,0.033],[103.2,0.039],
  [105.8,0.019],[108.8,0.025],[106.6,0.031],[108.0,0.036],
  [111.4,0.017],[112.6,0.023],[111.7,0.029],[112.3,0.034],
  [115.1,0.016],[118.3,0.022],[115.9,0.027],[117.5,0.032],
  [121.0,0.015],[122.4,0.020],[121.4,0.025],[122.0,0.030],
  [125.2,0.014],[128.6,0.019],[126.0,0.024],[127.8,0.028],
  [128.5,0.017],[127.0,0.016],[129.5,0.018],
  [19.8,0.097],[23.3,0.077],[27.0,0.067],[29.6,0.061],[32.3,0.057]
];

// ---------- drawing helpers ----------
const FONT = '"Liberation Sans", Arial, Helvetica, sans-serif';
const Y_TITLE = 'CA_PAR (mmol/m2/s)';
Chart.defaults.font.family = FONT;
Chart.defaults.color = '#000';

const toXY = arr => arr.map(([x, y]) => ({ x, y }));

function symbol(ctx, style, x, y, r) {
  ctx.beginPath();
  if (style === 'cross') {
    ctx.moveTo(x - r, y); ctx.lineTo(x + r, y);
    ctx.moveTo(x, y - r); ctx.lineTo(x, y + r);
    ctx.stroke();
  } else if (style === 'crossRot') {
    const d = r * Math.SQRT1_2;
    ctx.moveTo(x - d, y - d); ctx.lineTo(x + d, y + d);
    ctx.moveTo(x - d, y + d); ctx.lineTo(x + d, y - d);
    ctx.stroke();
  } else if (style === 'rect') {
    const s = r * Math.SQRT1_2;
    ctx.fillRect(x - s, y - s, 2 * s, 2 * s);
  } else if (style === 'triangle') {
    const h = r * Math.sqrt(3) / 2;
    ctx.moveTo(x, y - r); ctx.lineTo(x + h, y + r / 2); ctx.lineTo(x - h, y + r / 2);
    ctx.closePath(); ctx.fill();
  }
}

// full frame around the plotting region
const frame = {
  id: 'frame',
  afterDatasetsDraw(chart) {
    const { ctx, chartArea: a } = chart;
    const al = v => Math.round(v - 0.5) + 0.5;
    ctx.save();
    ctx.strokeStyle = '#000';
    ctx.lineWidth = 1;
    ctx.strokeRect(al(a.left), al(a.top), al(a.right) - al(a.left), al(a.bottom) - al(a.top));
    ctx.restore();
  }
};

// in-plot key (heading plus symbol/label rows) and the rotated y-axis caption
function keyPlugin(cfg) {
  return {
    id: 'key',
    afterDraw(chart) {
      const ctx = chart.ctx;
      ctx.save();
      ctx.fillStyle = '#000';
      ctx.strokeStyle = '#000';
      ctx.lineWidth = 1;
      ctx.font = cfg.fontSize + 'px ' + FONT;
      ctx.textAlign = 'left';
      ctx.textBaseline = 'alphabetic';
      ctx.fillText(cfg.heading, cfg.headingX, cfg.headingY);
      cfg.rows.forEach(row => {
        symbol(ctx, row.style, cfg.symbolX, row.symbolY, row.r);
        ctx.fillText(row.label, cfg.textX, row.textY);
      });
      // y-axis caption, centred a little below the plot middle as in R's device output
      ctx.translate(24, 311);
      ctx.rotate(-Math.PI / 2);
      ctx.font = '22px ' + FONT;
      ctx.textAlign = 'center';
      ctx.textBaseline = 'middle';
      ctx.fillText(Y_TITLE, 0, 0);
      ctx.restore();
    }
  };
}

function xAxis(min, max, values, labels) {
  return {
    type: 'logarithmic', position: 'bottom', min, max, bounds: 'data',
    afterBuildTicks: s => { s.ticks = values.map(v => ({ value: v })); },
    afterFit: s => { s.height = 78; s.paddingLeft = 0; s.paddingRight = 0; s.paddingTop = 0; s.paddingBottom = 0; },
    ticks: { autoSkip: false, minRotation: 0, maxRotation: 0, padding: 12, color: '#000',
             font: { size: 21 }, callback: (v, i) => labels[i] },
    grid: { drawOnChartArea: false, drawTicks: true, tickLength: 5, color: '#000', lineWidth: 1 },
    border: { display: true, color: '#000', width: 1 },
    title: { display: true, text: 'Optical Depth', color: '#000', font: { size: 22.5 },
             padding: { top: 0, bottom: 0.5 } }
  };
}

function yAxis() {
  return {
    type: 'linear', position: 'left', min: -0.044, max: 1.144, bounds: 'data',
    afterBuildTicks: s => { s.ticks = yTickValues.map(v => ({ value: v })); },
    afterFit: s => { s.width = 84; s.paddingLeft = 0; s.paddingRight = 0; s.paddingTop = 0; s.paddingBottom = 0; },
    ticks: { minRotation: 90, maxRotation: 90, crossAlign: 'center', padding: 7.9, color: '#000',
             font: { size: 21 }, callback: v => Number(v).toFixed(1) },
    grid: { drawOnChartArea: false, drawTicks: true, tickLength: 5, color: '#000', lineWidth: 1 },
    border: { display: true, color: '#000', width: 1 },
    title: { display: false, text: Y_TITLE }
  };
}

function panel(id, datasets, x, key) {
  return new Chart(document.getElementById(id), {
    type: 'scatter',
    data: { datasets },
    options: {
      responsive: false,
      animation: false,
      devicePixelRatio: 1,
      events: [],
      layout: { padding: { left: 0, right: 9.5, top: 12, bottom: 0 } },
      plugins: { legend: { display: false }, tooltip: { enabled: false } },
      scales: { x, y: yAxis() }
    },
    plugins: [frame, keyPlugin(key)]
  });
}

const markers = {
  plusData:  { pointStyle: 'cross', pointRadius: 4.6, pointBorderWidth: 1.3, pointBorderColor: '#000', pointBackgroundColor: '#000' },
  tinyX:     { pointStyle: 'crossRot', pointRadius: 2.7, pointBorderWidth: 1.2, pointBorderColor: '#000', pointBackgroundColor: '#000' },
  square:    { pointStyle: 'rect', pointRadius: 7.3, pointBorderWidth: 0, pointBackgroundColor: '#000' },
  triangle:  { pointStyle: 'triangle', pointRadius: 5.4, pointBorderWidth: 0, pointBackgroundColor: '#000' },
  plusOver:  { pointStyle: 'cross', pointRadius: 4.4, pointBorderWidth: 1.6, pointBorderColor: '#000', pointBackgroundColor: '#000' },
  xOver:     { pointStyle: 'crossRot', pointRadius: 6, pointBorderWidth: 1.3, pointBorderColor: '#000', pointBackgroundColor: '#000' }
};

panel('panelAer', [
  Object.assign({ label: 'direct_aer', data: toXY(directAer), order: 3 }, markers.plusData),
  Object.assign({ label: 'diffuse_aer', data: toXY(diffuseAer), order: 4 }, markers.tinyX),
  Object.assign({ label: 'direct_cld', data: toXY(directCld), order: 2 }, markers.square),
  Object.assign({ label: 'diffuse_cld', data: toXY(diffuseCld), order: 1 }, markers.triangle)
], xAxis(0.08551, 5.8469, aerTickValues, aerTickLabels), {
  fontSize: 22.5,
  heading: 'Airmass: 2.0 \u2013 2.1', headingX: 229, headingY: 63.5,
  symbolX: 246.5, textX: 294,
  rows: [
    { label: 'direct_aer',  style: 'cross',    r: 8.5, symbolY: 106,   textY: 113.3 },
    { label: 'diffuse_aer', style: 'crossRot', r: 11.2, symbolY: 129.3, textY: 136 },
    { label: 'direct_cld',  style: 'rect',     r: 9.6, symbolY: 150.7, textY: 158.3 },
    { label: 'diffuse_cld', style: 'triangle', r: 9.2, symbolY: 174,   textY: 180.3 }
  ]
});

panel('panelOvercast', [
  Object.assign({ label: 'Airmass:1.4\u2212\u22121.5', data: toXY(airmassLow), order: 2 }, markers.plusOver),
  Object.assign({ label: 'Airmass:2.3\u2212\u22122.4', data: toXY(airmassHigh), order: 1 }, markers.xOver)
], xAxis(0.8185, 183.3, overcastTickValues, overcastTickLabels), {
  fontSize: 22.5,
  heading: 'Overcast clouds', headingX: 134.7, headingY: 63.3,
  symbolX: 151.8, textX: 199.7,
  rows: [
    { label: 'Airmass:1.4\u2212\u22121.5', style: 'cross',    r: 8.8, symbolY: 104.5, textY: 111.7 },
    { label: 'Airmass:2.3\u2212\u22122.4', style: 'crossRot', r: 12.5, symbolY: 128.3, textY: 133.5 }
  ]
});
</script>
</body>
</html>
